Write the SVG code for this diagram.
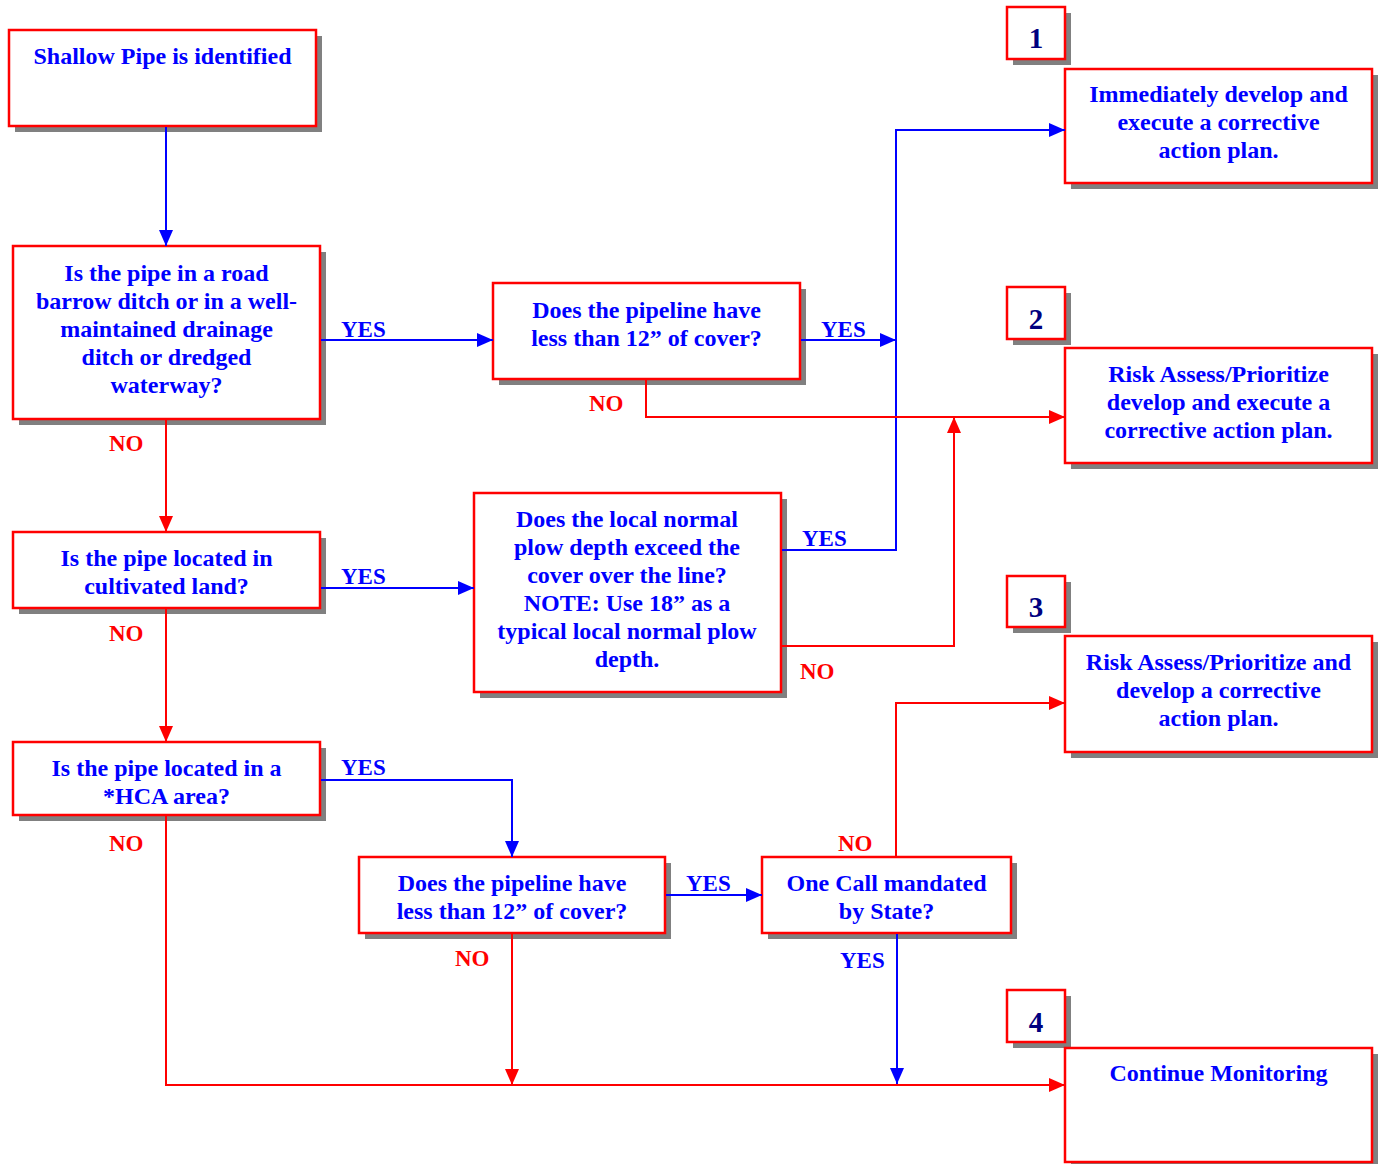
<svg xmlns="http://www.w3.org/2000/svg" width="1381" height="1164" viewBox="0 0 1381 1164">
<style>
.sh{fill:#808080}
.bx{fill:#fff;stroke:#f00;stroke-width:2.5}
.t{font-family:"Liberation Serif","Times New Roman",serif;font-weight:bold;font-size:24px;fill:#00f;text-anchor:middle}
.num{font-family:"Liberation Serif","Times New Roman",serif;font-weight:bold;font-size:29px;fill:#000080;text-anchor:middle}
.yes{font-family:"Liberation Serif","Times New Roman",serif;font-weight:bold;font-size:23px;fill:#00f}
.no{font-family:"Liberation Serif","Times New Roman",serif;font-weight:bold;font-size:23px;fill:#f00}
.cb{fill:none;stroke:#00f;stroke-width:2}
.cr{fill:none;stroke:#f00;stroke-width:2}
</style>
<defs>
<marker id="ab" markerUnits="userSpaceOnUse" markerWidth="17" markerHeight="16" refX="16" refY="8" orient="auto"><path d="M0,1 L16,8 L0,15 Z" fill="#00f"/></marker>
<marker id="ar" markerUnits="userSpaceOnUse" markerWidth="17" markerHeight="16" refX="16" refY="8" orient="auto"><path d="M0,1 L16,8 L0,15 Z" fill="#f00"/></marker>
</defs>
<rect width="1381" height="1164" fill="#fff"/>

<g id="start">
<rect class="sh" x="15" y="36" width="307" height="96"/>
<rect class="bx" x="9" y="30" width="307" height="96"/>
<text class="t" x="162.5" y="64">Shallow Pipe is identified</text>
</g>

<g id="q-road-ditch">
<rect class="sh" x="19" y="252" width="307" height="173"/>
<rect class="bx" x="13" y="246" width="307" height="173"/>
<text class="t" x="166.5" y="281">Is the pipe in a road</text>
<text class="t" x="166.5" y="309">barrow ditch or in a well-</text>
<text class="t" x="166.5" y="337">maintained drainage</text>
<text class="t" x="166.5" y="365">ditch or dredged</text>
<text class="t" x="166.5" y="393">waterway?</text>
</g>

<g id="q-cover-1">
<rect class="sh" x="499" y="289" width="307" height="96"/>
<rect class="bx" x="493" y="283" width="307" height="96"/>
<text class="t" x="646.5" y="318">Does the pipeline have</text>
<text class="t" x="646.5" y="346">less than 12” of cover?</text>
</g>

<g id="q-cultivated">
<rect class="sh" x="19" y="538" width="307" height="76"/>
<rect class="bx" x="13" y="532" width="307" height="76"/>
<text class="t" x="166.5" y="566">Is the pipe located in</text>
<text class="t" x="166.5" y="594">cultivated land?</text>
</g>

<g id="q-plow">
<rect class="sh" x="480" y="499" width="307" height="199"/>
<rect class="bx" x="474" y="493" width="307" height="199"/>
<text class="t" x="627" y="527">Does the local normal</text>
<text class="t" x="627" y="555">plow depth exceed the</text>
<text class="t" x="627" y="583">cover over the line?</text>
<text class="t" x="627" y="611">NOTE: Use 18” as a</text>
<text class="t" x="627" y="639">typical local normal plow</text>
<text class="t" x="627" y="667">depth.</text>
</g>

<g id="q-hca">
<rect class="sh" x="19" y="748" width="307" height="73"/>
<rect class="bx" x="13" y="742" width="307" height="73"/>
<text class="t" x="166.5" y="776">Is the pipe located in a</text>
<text class="t" x="166.5" y="804">*HCA area?</text>
</g>

<g id="q-cover-2">
<rect class="sh" x="365" y="863" width="306" height="76"/>
<rect class="bx" x="359" y="857" width="306" height="76"/>
<text class="t" x="512" y="891">Does the pipeline have</text>
<text class="t" x="512" y="919">less than 12” of cover?</text>
</g>

<g id="q-one-call">
<rect class="sh" x="768" y="863" width="249" height="76"/>
<rect class="bx" x="762" y="857" width="249" height="76"/>
<text class="t" x="886.5" y="891">One Call mandated</text>
<text class="t" x="886.5" y="919">by State?</text>
</g>

<g id="n1">
<rect class="sh" x="1013" y="13" width="58" height="52"/>
<rect class="bx" x="1007" y="7" width="58" height="52"/>
<text class="num" x="1036" y="48">1</text>
</g>
<g id="r1">
<rect class="sh" x="1071" y="75" width="307" height="114"/>
<rect class="bx" x="1065" y="69" width="307" height="114"/>
<text class="t" x="1218.5" y="102">Immediately develop and</text>
<text class="t" x="1218.5" y="130">execute a corrective</text>
<text class="t" x="1218.5" y="158">action plan.</text>
</g>

<g id="n2">
<rect class="sh" x="1013" y="293" width="58" height="52"/>
<rect class="bx" x="1007" y="287" width="58" height="52"/>
<text class="num" x="1036" y="329">2</text>
</g>
<g id="r2">
<rect class="sh" x="1071" y="354" width="307" height="115"/>
<rect class="bx" x="1065" y="348" width="307" height="115"/>
<text class="t" x="1218.5" y="382">Risk Assess/Prioritize</text>
<text class="t" x="1218.5" y="410">develop and execute a</text>
<text class="t" x="1218.5" y="438">corrective action plan.</text>
</g>

<g id="n3">
<rect class="sh" x="1013" y="582" width="58" height="51"/>
<rect class="bx" x="1007" y="576" width="58" height="51"/>
<text class="num" x="1036" y="617">3</text>
</g>
<g id="r3">
<rect class="sh" x="1071" y="642" width="307" height="116"/>
<rect class="bx" x="1065" y="636" width="307" height="116"/>
<text class="t" x="1218.5" y="670">Risk Assess/Prioritize and</text>
<text class="t" x="1218.5" y="698">develop a corrective</text>
<text class="t" x="1218.5" y="726">action plan.</text>
</g>

<g id="n4">
<rect class="sh" x="1013" y="996" width="58" height="52"/>
<rect class="bx" x="1007" y="990" width="58" height="52"/>
<text class="num" x="1036" y="1032">4</text>
</g>
<g id="r4">
<rect class="sh" x="1071" y="1054" width="307" height="115"/>
<rect class="bx" x="1065" y="1048" width="307" height="114"/>
<text class="t" x="1218.5" y="1081">Continue Monitoring</text>
</g>

<g id="connectors">
<path class="cb" d="M166,127 V246" marker-end="url(#ab)"/>
<path class="cb" d="M321,340 H493" marker-end="url(#ab)"/>
<path class="cb" d="M801,340 H896" marker-end="url(#ab)"/>
<path class="cb" d="M782,550 H896 V130 H1065" marker-end="url(#ab)"/>
<path class="cb" d="M321,588 H474" marker-end="url(#ab)"/>
<path class="cb" d="M321,780 H512 V857" marker-end="url(#ab)"/>
<path class="cb" d="M666,895 H762" marker-end="url(#ab)"/>
<path class="cb" d="M897,934 V1084" marker-end="url(#ab)"/>
<path class="cr" d="M646,380 V417 H1065" marker-end="url(#ar)"/>
<path class="cr" d="M782,646 H954 V417" marker-end="url(#ar)"/>
<path class="cr" d="M166,420 V532" marker-end="url(#ar)"/>
<path class="cr" d="M166,609 V742" marker-end="url(#ar)"/>
<path class="cr" d="M166,816 V1085 H1065" marker-end="url(#ar)"/>
<path class="cr" d="M512,934 V1085" marker-end="url(#ar)"/>
<path class="cr" d="M896,857 V703 H1065" marker-end="url(#ar)"/>
<text class="yes" x="341" y="337">YES</text>
<text class="yes" x="821" y="337">YES</text>
<text class="no" x="589" y="411">NO</text>
<text class="no" x="109" y="451">NO</text>
<text class="yes" x="802" y="546">YES</text>
<text class="yes" x="341" y="584">YES</text>
<text class="no" x="109" y="641">NO</text>
<text class="no" x="800" y="679">NO</text>
<text class="yes" x="341" y="775">YES</text>
<text class="no" x="109" y="851">NO</text>
<text class="no" x="838" y="851">NO</text>
<text class="yes" x="686" y="891">YES</text>
<text class="no" x="455" y="966">NO</text>
<text class="yes" x="840" y="968">YES</text>
</g>
</svg>
